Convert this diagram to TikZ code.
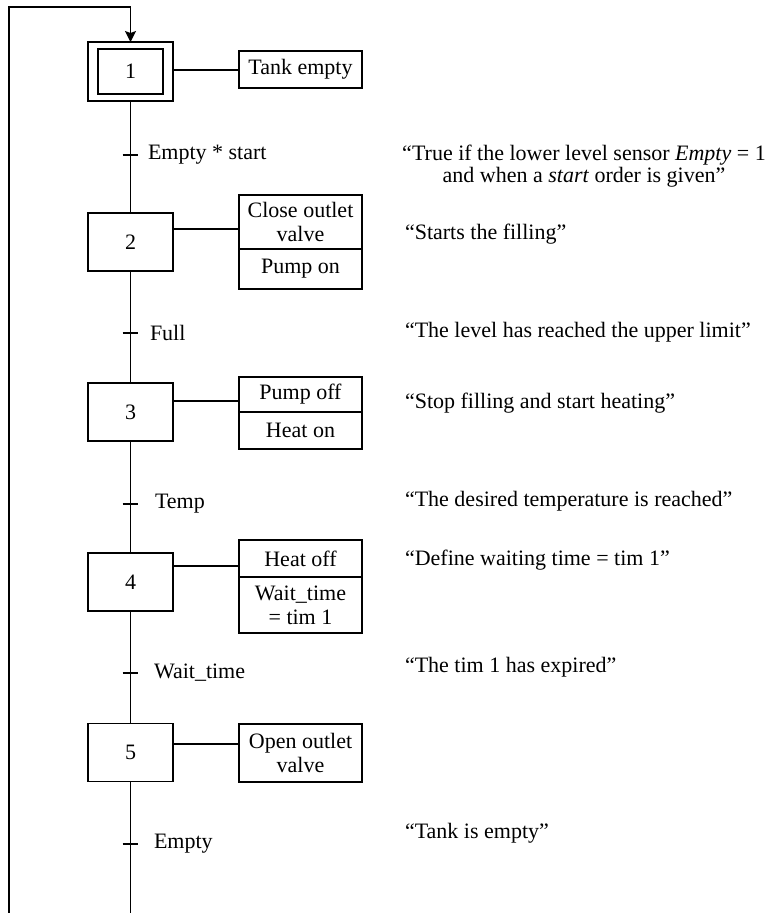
\documentclass[tikz,border=0pt]{standalone}
\usepackage{fontspec}
\setmainfont{Liberation Serif}
\usetikzlibrary{arrows.meta}
\newcommand\dfont{\fontsize{22}{24}\selectfont}
\tikzset{
  every node/.style={font=\dfont, inner sep=0pt, outer sep=0pt},
  ln/.style={line width=1.2pt, line cap=butt},
  stepbox/.style={draw, line width=1.2pt, minimum width=85pt, minimum height=58pt},
  actbox/.style={draw, line width=1.2pt, minimum width=123pt, align=center},
  trlabel/.style={anchor=west},
  note/.style={anchor=west, align=left},
}
\begin{document}
\begin{tikzpicture}[x=1pt,y=-1pt]
\useasboundingbox (0,0) rectangle (765,913);
% steps
\node[stepbox, minimum height=59pt] (s1) at (130.5,71.5) {};
\node[draw, line width=1.2pt, minimum width=65pt, minimum height=45pt] (s1i) at (130.5,71.5) {1};
\node[stepbox] (s2) at (130.5,242) {2};
\node[stepbox] (s3) at (130.5,412) {3};
\node[stepbox] (s4) at (130.5,582) {4};
\node[stepbox] (s5) at (130.5,752.5) {5};
% actions
\node[actbox, minimum height=37pt] (a1) at (300.5,69.5) {Tank empty};
\node[actbox, minimum height=54pt] (a2a) at (300.5,222) {Close outlet\\valve};
\node[actbox, minimum height=40pt] (a2b) at (300.5,269) {Pump on};
\node[actbox, minimum height=35pt] (a3a) at (300.5,394.5) {Pump off};
\node[actbox, minimum height=37pt] (a3b) at (300.5,430.5) {Heat on};
\node[actbox, minimum height=37pt] (a4a) at (300.5,558.5) {Heat off};
\node[actbox, minimum height=56pt] (a4b) at (300.5,605) {Wait\_time\\= tim 1};
\node[actbox, minimum height=58pt] (a5) at (300.5,753) {Open outlet\\valve};
% connector levels
\coordinate (k1) at (0,70);
\coordinate (k2) at (0,229);
\coordinate (k3) at (0,401);
\coordinate (k4) at (0,566);
\coordinate (k5) at (0,744);
\draw[ln] (s1.east|-k1) -- (a1.west|-k1);
\draw[ln] (s2.east|-k2) -- (a2a.west|-k2);
\draw[ln] (s3.east|-k3) -- (a3a.west|-k3);
\draw[ln] (s4.east|-k4) -- (a4a.west|-k4);
\draw[ln] (s5.east|-k5) -- (a5.west|-k5);
% transitions
\coordinate (t1) at (130.5,155);
\coordinate (t2) at (130.5,333);
\coordinate (t3) at (130.5,504);
\coordinate (t4) at (130.5,673);
\coordinate (t5) at (130.5,844);
\coordinate (bot) at (130.5,913);
\draw[ln] (s1.south) -- (s2.north);
\draw[ln] (s2.south) -- (s3.north);
\draw[ln] (s3.south) -- (s4.north);
\draw[ln] (s4.south) -- (s5.north);
\draw[ln] (s5.south) -- (bot);
\foreach \t in {t1,t2,t3,t4,t5}{
  \draw[ln] ([xshift=-8pt]\t) -- ([xshift=7.5pt]\t);
}
\node[trlabel] (l1) at (148,155) {Empty * start};
\node[trlabel] (l2) at (150,333) {Full};
\node[trlabel] (l3) at (155,504) {Temp};
\node[trlabel] (l4) at (154,673) {Wait\_time};
\node[trlabel] (l5) at (154,844) {Empty};
% loop back
\coordinate (lb) at (9,913);
\coordinate (lt) at (9,7);
\draw[ln, -{Stealth[length=11pt,width=11pt,inset=2pt]}] (lb) -- (lt) -- (s1.north|-lt) -- (s1.north);
% notes
\node[align=center, font=\fontsize{22}{22}\selectfont] (n1) at (584,166) {“True if the lower level sensor \textit{Empty} = 1\\and when a \textit{start} order is given”};
\node[note] (n2) at (405,234) {“Starts the filling”};
\node[note] (n3) at (405,332) {“The level has reached the upper limit”};
\node[note] (n4) at (405,403) {“Stop filling and start heating”};
\node[note] (n5) at (405,501) {“The desired temperature is reached”};
\node[note] (n6) at (405,560) {“Define waiting time = tim 1”};
\node[note] (n7) at (405,667) {“The tim 1 has expired”};
\node[note] (n8) at (405,833) {“Tank is empty”};
\end{tikzpicture}
\end{document}
